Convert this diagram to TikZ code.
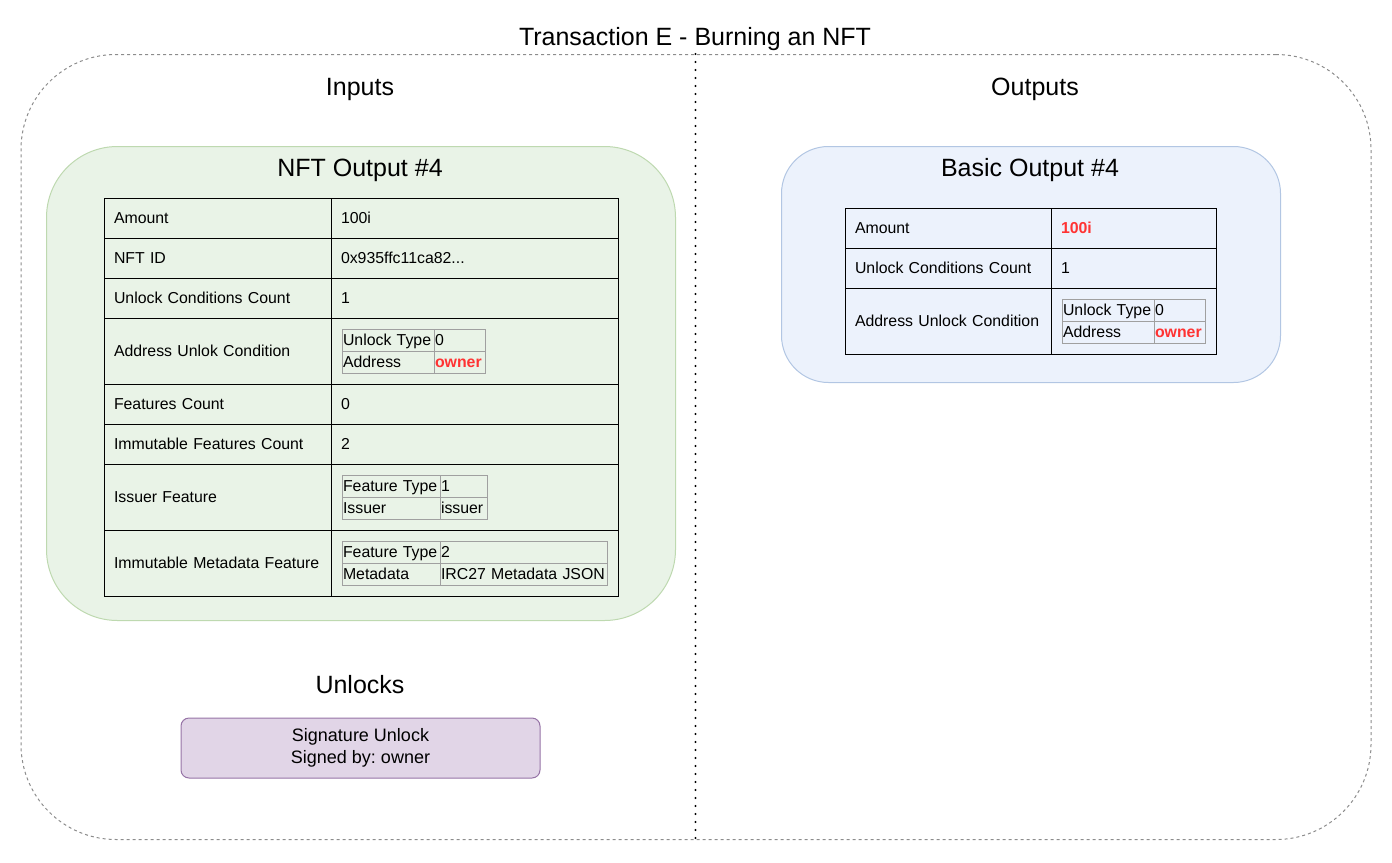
\documentclass[tikz,border=0pt]{standalone}
\usepackage{fontspec}
\setmainfont{Liberation Sans}
\frenchspacing
\newcommand\myTabFont{\fontsize{15.85}{19}\selectfont}
\newcommand\myHeadFont{\fontsize{25}{30}\selectfont}
\definecolor{grnfill}{RGB}{233,243,231}
\definecolor{grnstroke}{RGB}{190,217,176}
\definecolor{bluefill}{RGB}{236,242,252}
\definecolor{bluestroke}{RGB}{178,198,227}
\definecolor{purpfill}{RGB}{225,213,231}
\definecolor{purpstroke}{RGB}{150,115,166}
\definecolor{subgray}{RGB}{160,160,160}
\definecolor{outergray}{RGB}{140,140,140}
\definecolor{redtxt}{RGB}{255,51,51}
\tikzset{
  head/.style={font=\myHeadFont, inner sep=0pt, anchor=base},
  cell/.style={draw=black, line width=1pt, anchor=north west, inner xsep=10pt, inner ysep=0pt,
    align=left, font=\myTabFont, text height=12pt, text depth=1.5pt},
  nl/.style={cell, text width=207pt},
  nr/.style={cell, text width=267pt},
  bl/.style={cell, text width=186pt},
  br/.style={cell, text width=145pt},
  h40/.style={minimum height=40pt},
  h66/.style={minimum height=66pt},
  sub/.style={draw=subgray, line width=1pt, anchor=north west, inner xsep=1pt, inner ysep=0pt,
    align=left, font=\myTabFont, text height=12pt, text depth=1.5pt, minimum height=22pt},
  red/.style={text=redtxt, font=\myTabFont\bfseries},
}
\begin{document}
\begin{tikzpicture}[x=1pt, y=-1pt]
\useasboundingbox (0,0) rectangle (1392,862);
% outer container
\node[draw=outergray, line width=1pt, dash pattern=on 3pt off 3pt, rounded corners=95pt,
      minimum width=1350pt, minimum height=785pt, inner sep=0pt, anchor=north west] (outer) at (20.5,54) {};
\coordinate (dtop) at (695.5,54);
\coordinate (dbot) at (695.5,839);
\draw[line width=2.2pt, line cap=round, dash pattern=on 0pt off 8pt] (dtop) -- (dbot);

\node[head] (title) at (695,45.5) {Transaction E - Burning an NFT};
\node[head] (inputs) at (360,95) {Inputs};
\node[head] (outputs) at (1035,95) {Outputs};
\node[head] (unlocks) at (360,693) {Unlocks};

% NFT output container
\node[draw=grnstroke, fill=grnfill, line width=1pt, rounded corners=71pt, minimum width=629pt,
      minimum height=474pt, inner sep=0pt, anchor=north west] (nftbox) at (46,146) {};
\node[head] (nfttitle) at (360,176) {NFT Output \#4};

\node[nl,h40] (n1l) at (103.5,197.5) {Amount};
\node[nr,h40] (n1r) at (330.5,197.5) {100i};
\node[nl,h40] (n2l) at (103.5,237.5) {NFT ID};
\node[nr,h40] (n2r) at (330.5,237.5) {0x935ffc11ca82...};
\node[nl,h40] (n3l) at (103.5,277.5) {Unlock Conditions Count};
\node[nr,h40] (n3r) at (330.5,277.5) {1};
\node[nl,h66] (n4l) at (103.5,317.5) {Address Unlok Condition};
\node[nr,h66] (n4r) at (330.5,317.5) {};
\node[nl,h40] (n5l) at (103.5,383.5) {Features Count};
\node[nr,h40] (n5r) at (330.5,383.5) {0};
\node[nl,h40] (n6l) at (103.5,423.5) {\mbox{Immutable Features Count}};
\node[nr,h40] (n6r) at (330.5,423.5) {2};
\node[nl,h66] (n7l) at (103.5,463.5) {Issuer Feature};
\node[nr,h66] (n7r) at (330.5,463.5) {};
\node[nl,h66] (n8l) at (103.5,529.5) {\mbox{Immutable Metadata Feature}};
\node[nr,h66] (n8r) at (330.5,529.5) {};

% nested: address unlock
\node[sub, text width=90pt] (a1l) at (341.5,329) {\mbox{Unlock Type}};
\node[sub, text width=49pt] (a1r) at (433.5,329) {0};
\node[sub, text width=90pt] (a2l) at (341.5,351) {Address};
\node[sub, text width=49pt, red] (a2r) at (433.5,351) {owner};
% nested: issuer
\node[sub, text width=96pt] (i1l) at (341.5,474.5) {\mbox{Feature Type}};
\node[sub, text width=45pt] (i1r) at (439.5,474.5) {1};
\node[sub, text width=96pt] (i2l) at (341.5,496.5) {Issuer};
\node[sub, text width=45pt] (i2r) at (439.5,496.5) {issuer};
% nested: metadata
\node[sub, text width=96pt] (m1l) at (341.5,540.5) {\mbox{Feature Type}};
\node[sub, text width=165pt] (m1r) at (439.5,540.5) {2};
\node[sub, text width=96pt] (m2l) at (341.5,562.5) {Metadata};
\node[sub, text width=165pt] (m2r) at (439.5,562.5) {\mbox{IRC27 Metadata JSON}};

% Basic output container
\node[draw=bluestroke, fill=bluefill, line width=1pt, rounded corners=47pt, minimum width=499pt,
      minimum height=236pt, inner sep=0pt, anchor=north west] (basicbox) at (781,146) {};
\node[head] (basictitle) at (1030,176) {Basic Output \#4};

\node[bl,h40] (b1l) at (844.5,207.5) {Amount};
\node[br,h40,red] (b1r) at (1050.5,207.5) {100i};
\node[bl,h40] (b2l) at (844.5,247.5) {\mbox{Unlock Conditions Count}};
\node[br,h40] (b2r) at (1050.5,247.5) {1};
\node[bl,h66] (b3l) at (844.5,287.5) {\mbox{Address Unlock Condition}};
\node[br,h66] (b3r) at (1050.5,287.5) {};
\node[sub, text width=90pt] (c1l) at (1061.5,298.5) {\mbox{Unlock Type}};
\node[sub, text width=49pt] (c1r) at (1153.5,298.5) {0};
\node[sub, text width=90pt] (c2l) at (1061.5,320.5) {Address};
\node[sub, text width=49pt, red] (c2r) at (1153.5,320.5) {owner};

% Unlock
\node[draw=purpstroke, fill=purpfill, line width=1pt, rounded corners=8pt, minimum width=359pt,
      minimum height=60pt, inner sep=0pt, align=center, font=\fontsize{18}{22}\selectfont] (sig) at (360.5,748)
      {Signature Unlock\\Signed by: owner};
\end{tikzpicture}
\end{document}
